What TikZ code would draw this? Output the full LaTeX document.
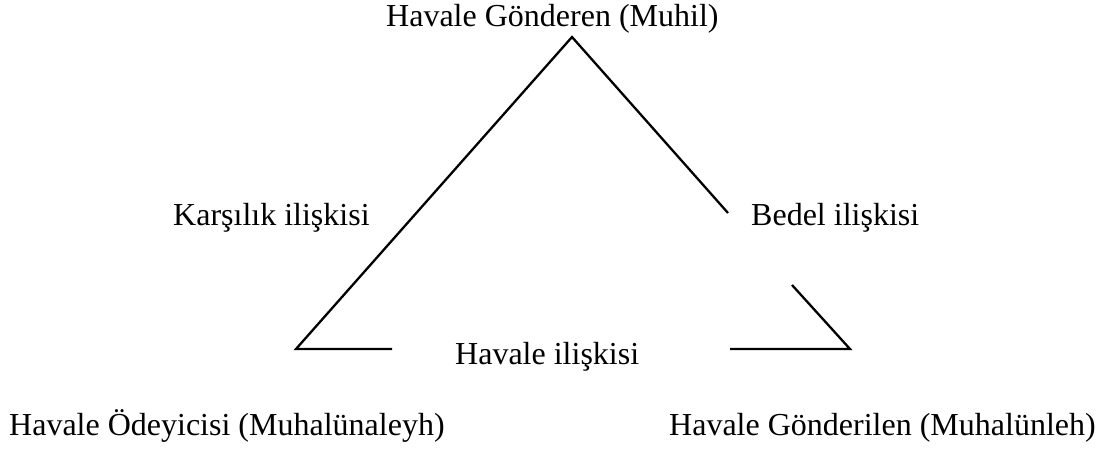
\documentclass[tikz,border=0pt]{standalone}
\usepackage{fontspec}
\setmainfont{Liberation Serif}
\begin{document}
\begin{tikzpicture}[x=1pt,y=-1pt,
  lbl/.style={inner sep=0pt,anchor=base west,font=\fontsize{32}{36}\selectfont},
  edge/.style={line width=2.3pt,line cap=butt,line join=miter}]
\useasboundingbox (0,0) rectangle (1113,452);
% corners of the triangle and the ends of its broken sides
\coordinate (top) at (572,37);
\coordinate (bl) at (296,349);
\coordinate (br) at (850,349);
\coordinate (bl2) at (392,349);
\coordinate (br2) at (730,349);
\coordinate (r1) at (728,213);
\coordinate (r2) at (792,285);
% labels
\node[lbl] (muhil) at (386,27) {Havale Gönderen (Muhil)};
\node[lbl] (karsilik) at (173,225) {Karşılık ilişkisi};
\node[lbl] (bedel) at (751,225) {Bedel ilişkisi};
\node[lbl] (havale) at (455,364) {Havale ilişkisi};
\node[lbl] (odeyici) at (9,435) {Havale Ödeyicisi (Muhalünaleyh)};
\node[lbl] (gonderilen) at (669,435) {Havale Gönderilen (Muhalünleh)};
% sides
\draw[edge] (bl2) -- (bl) -- (top) -- (r1);
\draw[edge] (r2) -- (br) -- (br2);
\end{tikzpicture}
\end{document}
